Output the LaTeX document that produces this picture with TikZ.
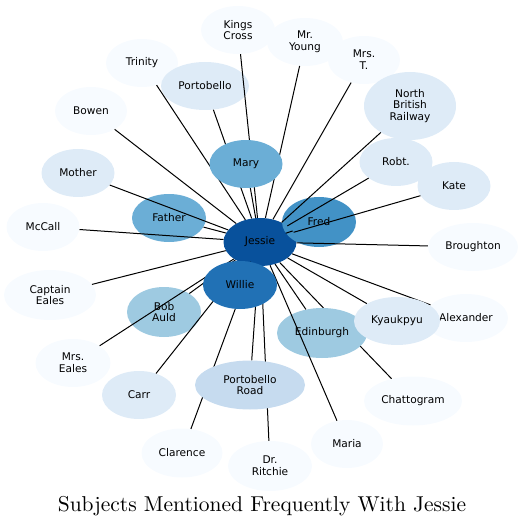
\documentclass[tikz,border=0pt]{standalone}
\usepackage{fontspec}
\usetikzlibrary{shapes.geometric}
\newfontfamily\dejavu{DejaVu Sans}
\newfontfamily\titlefont{lmroman10-regular.otf}

\definecolor{blue9}{RGB}{8,81,156}
\definecolor{blue8}{RGB}{33,113,181}
\definecolor{blue7}{RGB}{66,146,198}
\definecolor{blue6}{RGB}{107,174,214}
\definecolor{blue5}{RGB}{158,202,225}
\definecolor{blue4}{RGB}{198,219,239}
\definecolor{blue3}{RGB}{222,235,247}
\definecolor{blue1}{RGB}{247,251,255}

\pgfdeclarelayer{bottom}
\pgfdeclarelayer{back}
\pgfdeclarelayer{front}
\pgfsetlayers{bottom,back,main,front}

\tikzset{
  subj/.style={ellipse, inner sep=0pt, align=center, fill=blue1,
    minimum width=73pt, minimum height=48pt,
    font=\dejavu\fontsize{10.6}{11.8}\selectfont},
  link/.style={line width=1pt, black}
}

\begin{document}
\begin{tikzpicture}[x=1pt,y=-1pt]
  \useasboundingbox (0,0) rectangle (523,526);
  % nodes under the links
  \begin{pgfonlayer}{back}
    \node[subj, fill=blue9] (jessie) at (260,242) {Jessie};
    \node[subj, fill=blue7, minimum width=74pt, minimum height=50pt] (fred) at (319,222) {Fred};
    \node[subj, fill=blue6, minimum width=74pt] (father) at (169,218) {Father};
    \node[subj, fill=blue5, minimum width=74pt, minimum height=50pt] (bob) at (164,312) {Bob\\Auld};
    \node[subj, fill=blue5, minimum width=90pt, minimum height=50pt] (edinburgh) at (322,333) {Edinburgh};
    \node[subj, minimum width=74pt] (kings) at (238,30) {Kings\\Cross};
    \node[subj, minimum width=76pt] (young) at (305,42) {Mr.\\Young};
    \node[subj, minimum width=72pt] (mrst) at (364,60) {Mrs.\\T.};
    \node[subj, minimum width=72pt] (trinity) at (142,63) {Trinity};
    \node[subj, fill=blue3, minimum width=88pt] (portobello) at (205,86) {Portobello};
    \node[subj, minimum width=72pt] (bowen) at (91,111) {Bowen};
    \node[subj, fill=blue3, minimum width=92pt, minimum height=68pt] (nbr) at (410,106) {North\\British\\Railway};
    \node[subj, fill=blue3] (robt) at (396,162) {Robt.};
    \node[subj, fill=blue3] (kate) at (454,186) {Kate};
    \node[subj, fill=blue3] (mother) at (78,173) {Mother};
    \node[subj] (mccall) at (43,227) {McCall};
    \node[subj, minimum width=90pt] (broughton) at (473,247) {Broughton};
    \node[subj, minimum width=92pt, minimum height=50pt] (capteales) at (50,295) {Captain\\Eales};
    \node[subj, minimum width=84pt] (alexander) at (466,318) {Alexander};
    \node[subj, minimum width=75pt] (mrseales) at (73,363) {Mrs.\\Eales};
    \node[subj, fill=blue3, minimum width=74pt] (carr) at (139,395) {Carr};
    \node[subj, minimum width=98pt, minimum height=49pt] (chattogram) at (413,401) {Chattogram};
    \node[subj, minimum width=81pt, minimum height=49pt] (clarence) at (182,453) {Clarence};
    \node[subj, minimum width=84pt, minimum height=50pt] (ritchie) at (270,466) {Dr.\\Ritchie};
    \node[subj, minimum width=72pt] (maria) at (347,444) {Maria};
  \end{pgfonlayer}
  % nodes over the links
  \begin{pgfonlayer}{front}
    \node[subj, fill=blue8, minimum width=74pt] (willie) at (240,285) {Willie};
    \node[subj, fill=blue6] (mary) at (246,164) {Mary};
    \node[subj, fill=blue4, minimum width=110pt, minimum height=49pt] (pbroad) at (250,385) {Portobello\\Road};
    \node[subj, fill=blue3, minimum width=86pt] (kyaukpyu) at (397,321) {Kyaukpyu};
  \end{pgfonlayer}

  \begin{pgfonlayer}{bottom}
    \draw[link] (jessie) -- (chattogram);
  \end{pgfonlayer}
  \foreach \n in {kings,young,mrst,trinity,portobello,bowen,nbr,mary,robt,kate,
      mother,father,fred,mccall,broughton,capteales,willie,bob,edinburgh,
      kyaukpyu,alexander,mrseales,carr,pbroad,clarence,ritchie,maria}
    \draw[link] (jessie) -- (\n);

  \node[anchor=base, font=\titlefont\fontsize{21.5}{24}\selectfont] (title) at (262,511)
    {Subjects Mentioned Frequently With Jessie};
\end{tikzpicture}
\end{document}
